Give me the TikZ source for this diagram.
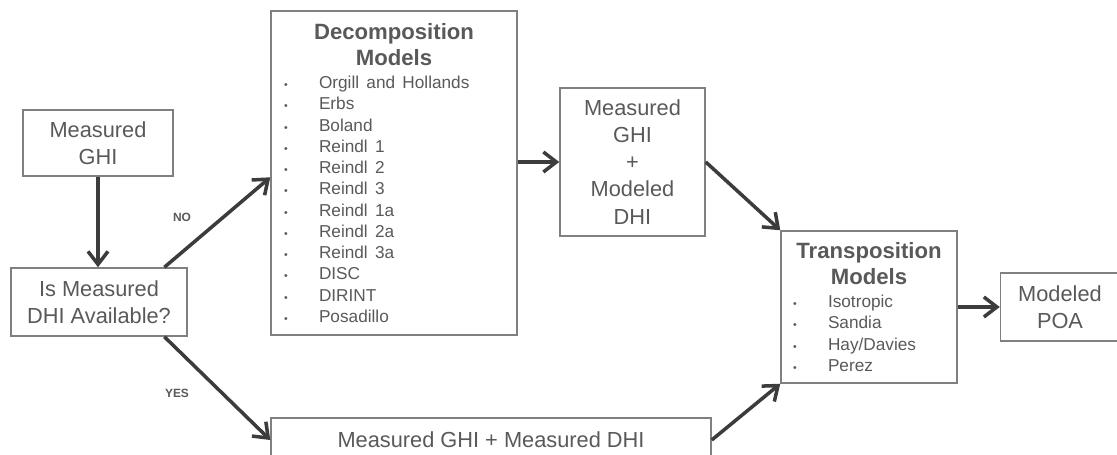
\documentclass[tikz,border=0pt]{standalone}
\usepackage{fontspec}
\setmainfont{Liberation Sans}
\usetikzlibrary{arrows.meta, positioning}
\definecolor{boxText}{RGB}{89,89,89}
\definecolor{boxLine}{RGB}{128,128,128}
\definecolor{flowGray}{RGB}{60,60,60}
\newlength{\listw}
\newcommand{\modelitem}[1]{\makebox[\listw][l]{\makebox[0.7cm][l]{\fontsize{6}{6}\selectfont\textbullet}#1}}
\newcommand{\titlefont}{\fontsize{12.6}{14.8}\selectfont\bfseries}
\newcommand{\listfont}{\fontsize{9.8}{12.1}\selectfont}

\begin{document}
\begin{tikzpicture}[
        x=1cm,
        y=1cm,
        box/.style={
            draw=boxLine,
            line width=0.85pt,
            text=boxText,
            align=center,
            inner sep=2pt,
            font=\fontsize{12.4}{15.4}\selectfont
        },
        modelbox/.style={box, inner sep=0pt},
        flow/.style={line width=2pt, flowGray, -{Straight Barb[length=2.6mm, width=4mm]}},
        answer/.style={font=\fontsize{6.8}{8}\selectfont\bfseries, text=boxText}
    ]
        \useasboundingbox (0,0) rectangle (22.34,9.1);

        \node[box, minimum width=3cm, minimum height=1.32cm] (ghi) at (1.96,6.24)
            {Measured\\GHI};
        \node[box, minimum width=3.52cm, minimum height=1.36cm] (avail) at (1.98,3.06)
            {Is Measured\\DHI Available?};

        \node[modelbox, text width=4.92cm, minimum height=6.48cm] (decomp) at (7.88,5.64)
            {{\titlefont Decomposition\\Models\par}\vspace{1pt}
             \listfont\setlength{\listw}{4.4cm}
             \modelitem{Orgill and Hollands}\\
             \modelitem{Erbs}\\
             \modelitem{Boland}\\
             \modelitem{Reindl 1}\\
             \modelitem{Reindl 2}\\
             \modelitem{Reindl 3}\\
             \modelitem{Reindl 1a}\\
             \modelitem{Reindl 2a}\\
             \modelitem{Reindl 3a}\\
             \modelitem{DISC}\\
             \modelitem{DIRINT}\\
             \modelitem{Posadillo}\par};

        \node[box, minimum width=2.9cm, minimum height=2.96cm] (mgmd) at (12.65,5.86)
            {Measured\\GHI\\+\\Modeled\\DHI};

        \node[modelbox, text width=3.52cm, minimum height=3.04cm] (trans) at (17.38,2.96)
            {{\titlefont Transposition\\Models\par}\vspace{1pt}
             \listfont\setlength{\listw}{3.04cm}
             \modelitem{Isotropic}\\
             \modelitem{Sandia}\\
             \modelitem{Hay/Davies}\\
             \modelitem{Perez}\par};

        \node[box, minimum width=2.38cm, minimum height=1.36cm] (poa) at (21.2,2.96)
            {Modeled\\POA};
        \node[box, minimum width=8.8cm, minimum height=0.88cm] (meas) at (9.82,0.3)
            {Measured GHI + Measured DHI};

        \node[answer] (no) at (3.64,4.76) {NO};
        \node[answer] (yes) at (3.54,1.24) {YES};

        % flow of the data
        \draw[flow] (ghi.south) -- (ghi.south |- avail.north);
        \draw[flow] (avail.28) -- (decomp.182);
        \draw[flow] (avail.-28) -- (meas.west);
        \draw[flow] (decomp.east |- mgmd.west) -- (mgmd.west);
        \draw[flow] (mgmd.east) -- (trans.north west);
        \draw[flow] (meas.east) -- (trans.south west);
        \draw[flow] (trans) -- (poa);
    \end{tikzpicture}
\end{document}
